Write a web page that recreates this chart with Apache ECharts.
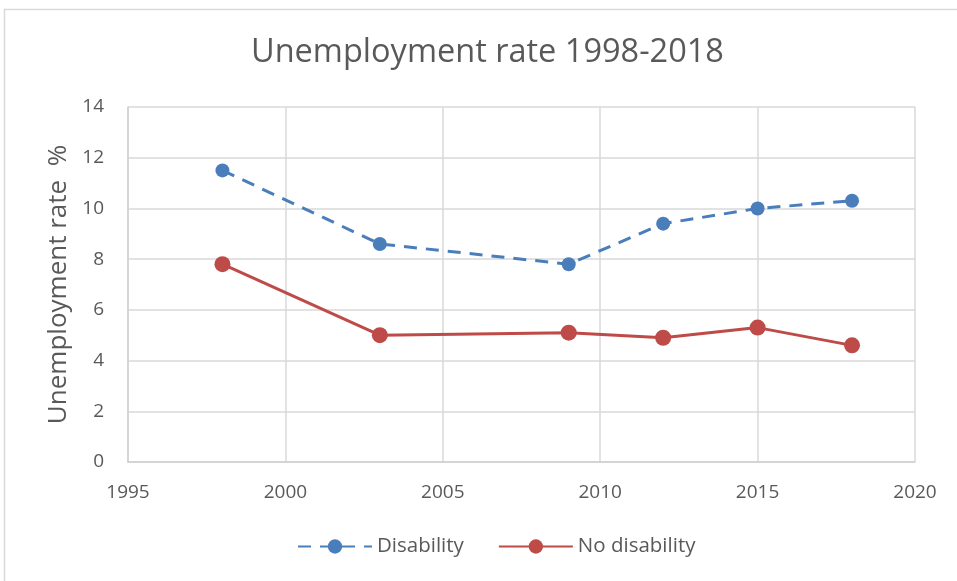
<!DOCTYPE html>
<html>
<head>
<meta charset="utf-8">
<style>
  html, body { margin: 0; padding: 0; background: #fff; }
  #chart { width: 957px; height: 581px; }
</style>
<script src="https://cdn.jsdelivr.net/npm/echarts@6/dist/echarts.min.js"></script>
</head>
<body>
<div id="chart"></div>
<script>
// Survey years and unemployment rates (%)
const years = [1998, 2003, 2009, 2012, 2015, 2018];
const disability = [11.5, 8.6, 7.8, 9.4, 10.0, 10.3];
const noDisability = [7.8, 5.0, 5.1, 4.9, 5.3, 4.6];

const FONT = '"Open Sans", "Liberation Sans", sans-serif';
const TEXT = '#595959';

const chart = echarts.init(document.getElementById('chart'), null, { renderer: 'canvas' });

chart.setOption({
  animation: false,
  backgroundColor: '#fff',
  textStyle: { fontFamily: FONT },
  graphic: [{
    type: 'rect',
    shape: { x: 4.5, y: 9.5, width: 1000, height: 1000 },
    style: { fill: 'none', stroke: '#d9d9d9', lineWidth: 1.5 },
    silent: true
  }],
  title: {
    text: 'Unemployment rate 1998-2018',
    left: 246,
    top: 31,
    textStyle: { fontFamily: FONT, fontSize: 32.5, fontWeight: 'normal', color: TEXT }
  },
  grid: { left: 128, right: 42, top: 107, bottom: 119 },
  legend: {
    bottom: 19,
    left: 292,
    itemWidth: 74,
    itemHeight: 18,
    itemGap: 34,
    textStyle: { fontFamily: FONT, fontSize: 20.5, color: TEXT },
    data: ['Disability', 'No disability']
  },
  xAxis: {
    type: 'value',
    min: 1995,
    max: 2020,
    interval: 5,
    axisLine: { show: true, lineStyle: { color: '#d0d0d0', width: 1.5 } },
    axisTick: { show: false },
    splitLine: { show: true, lineStyle: { color: '#d9d9d9', width: 1.5 } },
    axisLabel: { color: TEXT, fontSize: 19, fontFamily: FONT, margin: 21, formatter: v => String(v) }
  },
  yAxis: {
    type: 'value',
    min: 0,
    max: 14,
    interval: 2,
    name: 'Unemployment rate  %',
    nameLocation: 'middle',
    nameGap: 51,
    nameTextStyle: { color: TEXT, fontSize: 26, fontFamily: FONT },
    axisLine: { show: true, lineStyle: { color: '#d0d0d0', width: 1.5 } },
    axisTick: { show: false },
    splitLine: { show: true, lineStyle: { color: '#d9d9d9', width: 1.5 } },
    axisLabel: { color: TEXT, fontSize: 19, fontFamily: FONT, margin: 24 }
  },
  series: [
    {
      name: 'Disability',
      type: 'line',
      data: years.map((y, i) => [y, disability[i]]),
      symbol: 'circle',
      symbolSize: 14,
      lineStyle: { color: '#4a7ebb', width: 3, type: [13, 9] },
      itemStyle: { color: '#4a7ebb' }
    },
    {
      name: 'No disability',
      type: 'line',
      data: years.map((y, i) => [y, noDisability[i]]),
      symbol: 'circle',
      symbolSize: 16,
      lineStyle: { color: '#be4b48', width: 3 },
      itemStyle: { color: '#be4b48' }
    }
  ]
});
</script>
</body>
</html>
